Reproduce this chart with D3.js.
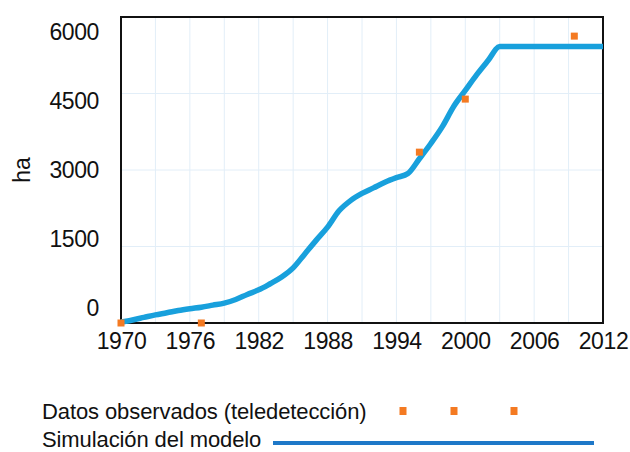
<!DOCTYPE html>
<html><head><meta charset="utf-8">
<script src="https://cdn.jsdelivr.net/npm/d3@7"></script>
<style>body{margin:0;background:#fff}svg{display:block}text{font-family:"Liberation Sans",Arial,sans-serif;fill:#111}</style>
</head><body><svg id="c" width="630" height="452"></svg>
<script>
const simYears = [1970,1971,1972,1973,1974,1975,1976,1977,1978,1979,1980,1981,1982,1983,1984,1985,1986,1987,1988,1989,1990,1991,1992,1993,1994,1995,1996,1997,1998,1999,2000,2001,2002,2003,2004,2005,2006,2007,2008,2009,2010,2011,2012];
const simValues = [20,60,110,160,200,245,280,310,350,390,460,560,650,770,900,1080,1350,1620,1880,2200,2400,2540,2650,2760,2850,2930,3220,3520,3850,4250,4560,4870,5150,5420,5420,5420,5420,5420,5420,5420,5420,5420,5420];
const obsYears = [1970,1977,1996,2000,2009.5];
const obsValues = [0,0,3350,4390,5625];
const xTicks = [1970,1976,1982,1988,1994,2000,2006,2012];
const yTicks = [0,1500,3000,4500,6000];
const legendLabels = ["Datos observados (teledetección)","Simulación del modelo"];

const svg = d3.select("#c");
const L=121,R=603,T=17,B=323;
const x = d3.scaleLinear().domain([1970,2012]).range([L,R]);
const y = d3.scaleLinear().domain([0,6000]).range([B,T]);
const yLab = d3.scaleLinear().domain([0,6000]).range([308,32]);

// grid
const g = svg.append("g");
g.selectAll(".vg").data(d3.range(1973,2012,3)).join("line")
 .attr("x1",d=>x(d)).attr("x2",d=>x(d)).attr("y1",T).attr("y2",B)
 .attr("stroke","#e2eef8").attr("stroke-width",1);
g.selectAll(".hg").data(yTicks.slice(1,-1)).join("line")
 .attr("x1",L).attr("x2",R).attr("y1",d=>y(d)).attr("y2",d=>y(d))
 .attr("stroke","#e2eef8").attr("stroke-width",1);

// axes
const xa = svg.append("g").attr("transform",`translate(0,${B})`)
 .call(d3.axisBottom(x).tickValues(xTicks).tickFormat(d3.format("d")).tickSize(0).tickPadding(10));
xa.select(".domain").remove();
xa.selectAll("text").attr("font-size",23).attr("letter-spacing","-0.4px").attr("fill","#111");
const ya = svg.append("g").attr("transform",`translate(${L-22},0)`)
 .call(d3.axisLeft(yLab).tickValues(yTicks).tickFormat(d3.format("d")).tickSize(0).tickPadding(0));
ya.select(".domain").remove();
ya.selectAll("text").attr("font-size",23).attr("letter-spacing","-0.4px").attr("fill","#111");

svg.append("text").attr("transform","translate(30,170) rotate(-90)").attr("text-anchor","middle")
 .attr("font-size",23).text("ha");

// frame
svg.append("rect").attr("x",L).attr("y",T).attr("width",R-L).attr("height",B-T)
 .attr("fill","none").attr("stroke","#111").attr("stroke-width",2);

// simulation line
const line = d3.line().x((d,i)=>x(simYears[i])).y(d=>y(d)).curve(d3.curveMonotoneX);
svg.append("path").datum(simValues).attr("d",line).attr("fill","none")
 .attr("stroke","#18a0dc").attr("stroke-width",5.5).attr("stroke-linejoin","round");

// observed
svg.selectAll(".obs").data(obsValues).join("rect")
 .attr("x",(d,i)=>x(obsYears[i])-3.5).attr("y",d=>y(d)-3.5).attr("width",7).attr("height",7)
 .attr("fill","#f47a22");

// legend
const lg = svg.append("g");
lg.append("text").attr("x",42).attr("y",419).attr("font-size",22).attr("letter-spacing","-0.1px").text(legendLabels[0]);
lg.append("text").attr("x",42).attr("y",447).attr("font-size",22).attr("letter-spacing","-0.1px").text(legendLabels[1]);
lg.selectAll(".ls").data([403,454,514]).join("rect")
 .attr("x",d=>d-3.5).attr("y",407).attr("width",7).attr("height",8).attr("fill","#f47a22");
lg.append("line").attr("x1",273).attr("x2",594).attr("y1",443).attr("y2",443)
 .attr("stroke","#1e78c8").attr("stroke-width",4);
</script></body></html>
